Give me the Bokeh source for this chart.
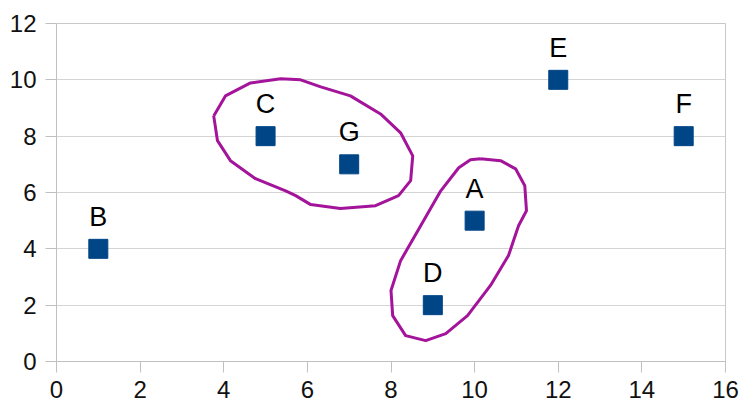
from bokeh.plotting import figure
from bokeh.models import ColumnDataSource, FixedTicker, Range1d
from bokeh.core.properties import value
from bokeh.embed import file_html
from bokeh.resources import INLINE

# data
names = ["A", "B", "C", "D", "E", "F", "G"]
xs = [10, 1, 5, 9, 12, 15, 7]
ys = [5, 4, 8, 2, 10, 8, 7]
x_ticks = [0, 2, 4, 6, 8, 10, 12, 14, 16]
y_ticks = [0, 2, 4, 6, 8, 10, 12]

# hand-drawn grouping loops (data coordinates)
loop_cg_x = [3.76, 4.04, 4.64, 5.36, 5.84, 6.32, 7.03, 7.75, 8.23, 8.52, 8.47, 8.18,
             7.63, 6.79, 6.08, 5.72, 5.48, 4.76, 4.16, 3.85, 3.76]
loop_cg_y = [8.72, 9.43, 9.89, 10.04, 10.0, 9.75, 9.43, 8.79, 8.12, 7.30, 6.42, 5.89,
             5.53, 5.43, 5.57, 5.89, 6.06, 6.49, 7.13, 7.84, 8.72]
loop_ad_x = [10.14, 10.62, 10.98, 11.20, 11.24, 11.05, 10.81, 10.38, 9.83, 9.31, 8.83,
             8.35, 8.04, 8.0, 8.23, 8.71, 9.19, 9.62, 9.90, 10.14]
loop_ad_y = [7.20, 7.13, 6.84, 6.24, 5.35, 4.82, 3.76, 2.70, 1.63, 0.99, 0.74,
             0.92, 1.63, 2.52, 3.58, 4.82, 6.06, 6.88, 7.16, 7.20]

src = ColumnDataSource(dict(x=xs, y=ys, name=names))

p = figure(width=745, height=416, output_backend="svg", toolbar_location=None,
           x_range=Range1d(0, 16), y_range=Range1d(0, 12),
           min_border_left=56, min_border_right=20, min_border_top=23, min_border_bottom=55)

p.background_fill_color = "white"
p.border_fill_color = "white"
p.outline_line_color = "#c8c8c8"
p.xgrid.grid_line_color = None
p.ygrid.grid_line_color = "#d4d4d4"
p.ygrid.grid_line_width = 1

for ax in (p.xaxis[0], p.yaxis[0]):
    ax.axis_line_color = "#c0c0c0"
    ax.major_tick_line_color = "#c0c0c0"
    ax.major_tick_out = 11
    ax.major_tick_in = 0
    ax.minor_tick_line_color = None
    ax.major_label_text_font = "Liberation Sans"
    ax.major_label_text_font_size = "24px"
    ax.major_label_text_color = "#111111"

p.xaxis.ticker = FixedTicker(ticks=x_ticks)
p.yaxis.ticker = FixedTicker(ticks=y_ticks)
p.xaxis.major_label_standoff = 8
p.yaxis.major_label_standoff = 9

p.line(loop_cg_x, loop_cg_y, line_color="#a3149b", line_width=3, line_join="round")
p.line(loop_ad_x, loop_ad_y, line_color="#a3149b", line_width=3, line_join="round")

p.scatter("x", "y", source=src, marker="square", size=19,
          fill_color="#004586", line_color="#004586")
p.text("x", "y", text="name", source=src, y_offset=-32, text_align="center",
       text_baseline="middle", text_font=value("Liberation Sans"),
       text_font_size="27px", text_color="black")

open("out.html", "w").write(file_html(p, INLINE))
